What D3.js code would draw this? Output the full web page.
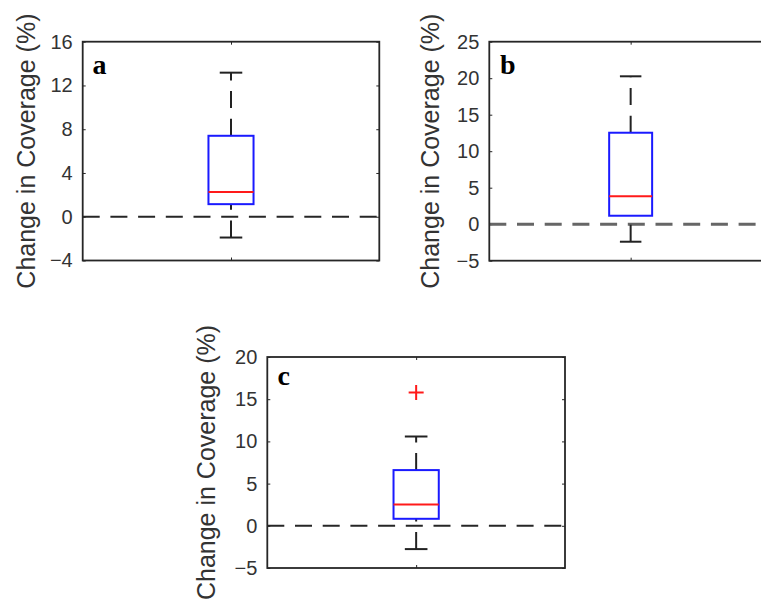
<!DOCTYPE html>
<html>
<head>
<meta charset="utf-8">
<script src="https://cdn.jsdelivr.net/npm/d3@7"></script>
<style>
  body { margin: 0; background: #fff; }
</style>
</head>
<body>
<div id="chart"></div>
<script>
// values
var letters = ["a", "b", "c"]
var q1 = [1.15, 1.16, 0.83]
var medians = [2.27, 3.82, 2.52]
var q3 = [7.40, 12.53, 6.60]
var whiskerLow = [-1.9, -2.4, -2.76]
var whiskerHigh = [13.17, 20.26, 10.58]
var outliers = [[], [], [15.8]]
var yDomains = [[-4, 16], [-5, 25], [-5, 20]]
var yTicks = [[-4, 0, 4, 8, 12, 16], [-5, 0, 5, 10, 15, 20, 25], [-5, 0, 5, 10, 15, 20]]
var yLabel = "Change in Coverage (%)"

// where each axes box sits on the page
var layout = [
    {left: 82.7, right: 379.3, top: 41.7, bottom: 260.5, labelX: 35, letterX: 92.5, letterY: 74, zeroColor: "#262626", zeroWidth: 2},
    {left: 489.3, right: 772, top: 41.7, bottom: 260.7, labelX: 438.5, letterX: 500, letterY: 74, zeroColor: "#666", zeroWidth: 3},
    {left: 267.3, right: 565, top: 357, bottom: 568, labelX: 215, letterX: 277.5, letterY: 385, zeroColor: "#262626", zeroWidth: 2}
]

var W = 761, H = 608
var axisColor = "#262626"
var boxHalf = 0.076
var dash = "17,10.7"

var svg = d3.select("#chart")
    .append("svg")
    .attr("width", W)
    .attr("height", H)
    .style("display", "block")

svg.append("rect").attr("width", W).attr("height", H).attr("fill", "#fff")

function drawPanel(i) {
    var L = layout[i]
    var x = d3.scaleLinear().domain([0.5, 1.5]).range([L.left, L.right])
    var y = d3.scaleLinear().domain(yDomains[i]).range([L.bottom, L.top])
    var g = svg.append("g")

    // left axis with labels, ticks pointing inward
    var left = g.append("g")
        .attr("transform", "translate(" + L.left + ",0)")
        .call(d3.axisLeft(y).tickValues(yTicks[i]).tickSize(-3).tickPadding(10).tickFormat(d3.format("d")))
    left.select(".domain").remove()
    left.selectAll("line").attr("stroke", axisColor)
    left.selectAll("text")
        .attr("fill", "#333")
        .style("font-family", "Liberation Sans, Arial, sans-serif")
        .style("font-size", "20px")

    // right side ticks, no labels
    var right = g.append("g")
        .attr("transform", "translate(" + L.right + ",0)")
        .call(d3.axisRight(y).tickValues(yTicks[i]).tickSize(-3).tickFormat(""))
    right.select(".domain").remove()
    right.selectAll("line").attr("stroke", axisColor)

    // one x tick on top and bottom
    var bot = g.append("g")
        .attr("transform", "translate(0," + L.bottom + ")")
        .call(d3.axisBottom(x).tickValues([1]).tickSize(-3).tickFormat(""))
    bot.select(".domain").remove()
    bot.selectAll("line").attr("stroke", axisColor)
    var top = g.append("g")
        .attr("transform", "translate(0," + L.top + ")")
        .call(d3.axisTop(x).tickValues([1]).tickSize(-3).tickFormat(""))
    top.select(".domain").remove()
    top.selectAll("line").attr("stroke", axisColor)

    // zero reference line
    g.append("line")
        .attr("x1", L.left).attr("x2", L.right)
        .attr("y1", y(0)).attr("y2", y(0))
        .attr("stroke", L.zeroColor)
        .attr("stroke-width", L.zeroWidth)
        .attr("stroke-dasharray", dash)

    // whiskers, drawn from the lower value up
    var whiskers = [[whiskerLow[i], q1[i]], [q3[i], whiskerHigh[i]]]
    g.selectAll(".whisker")
        .data(whiskers)
        .enter()
        .append("line")
        .attr("class", "whisker")
        .attr("x1", x(1)).attr("x2", x(1))
        .attr("y1", function (d) { return y(d[0]) })
        .attr("y2", function (d) { return y(d[1]) })
        .attr("stroke", "#222")
        .attr("stroke-width", 2)
        .attr("stroke-dasharray", dash)

    g.selectAll(".cap")
        .data([whiskerLow[i], whiskerHigh[i]])
        .enter()
        .append("line")
        .attr("class", "cap")
        .attr("x1", x(1 - boxHalf / 2)).attr("x2", x(1 + boxHalf / 2))
        .attr("y1", function (d) { return y(d) })
        .attr("y2", function (d) { return y(d) })
        .attr("stroke", "#222")
        .attr("stroke-width", 2)

    // box
    g.append("rect")
        .attr("x", x(1 - boxHalf))
        .attr("width", x(1 + boxHalf) - x(1 - boxHalf))
        .attr("y", y(q3[i]))
        .attr("height", y(q1[i]) - y(q3[i]))
        .attr("fill", "none")
        .attr("stroke", "#1a1aff")
        .attr("stroke-width", 2)

    g.append("line")
        .attr("x1", x(1 - boxHalf)).attr("x2", x(1 + boxHalf))
        .attr("y1", y(medians[i])).attr("y2", y(medians[i]))
        .attr("stroke", "#ff1a1a")
        .attr("stroke-width", 2)

    // outliers as red plus signs
    var plus = g.selectAll(".outlier")
        .data(outliers[i])
        .enter()
        .append("path")
        .attr("class", "outlier")
        .attr("d", function (d) {
            var cx = x(1), cy = y(d), r = 7.5
            return "M" + (cx - r) + "," + cy + "H" + (cx + r) + "M" + cx + "," + (cy - r) + "V" + (cy + r)
        })
        .attr("stroke", "#ff1a1a")
        .attr("stroke-width", 2)
        .attr("fill", "none")

    // axes frame
    g.append("rect")
        .attr("x", L.left).attr("y", L.top)
        .attr("width", L.right - L.left)
        .attr("height", L.bottom - L.top)
        .attr("fill", "none")
        .attr("stroke", axisColor)
        .attr("stroke-width", 1.8)

    // panel letter
    g.append("text")
        .attr("x", L.letterX).attr("y", L.letterY)
        .text(letters[i])
        .style("font-family", "Liberation Serif, Times New Roman, serif")
        .style("font-weight", "bold")
        .style("font-size", "28px")
        .attr("fill", "#000")

    // y axis title
    g.append("text")
        .attr("transform", "translate(" + L.labelX + "," + ((L.top + L.bottom) / 2) + ") rotate(-90)")
        .attr("text-anchor", "middle")
        .text(yLabel)
        .style("font-family", "Liberation Sans, Arial, sans-serif")
        .style("font-size", "25px")
        .attr("fill", "#333")
}

for (var i = 0; i < letters.length; i += 1) {
    drawPanel(i)
}
</script>
</body>
</html>
